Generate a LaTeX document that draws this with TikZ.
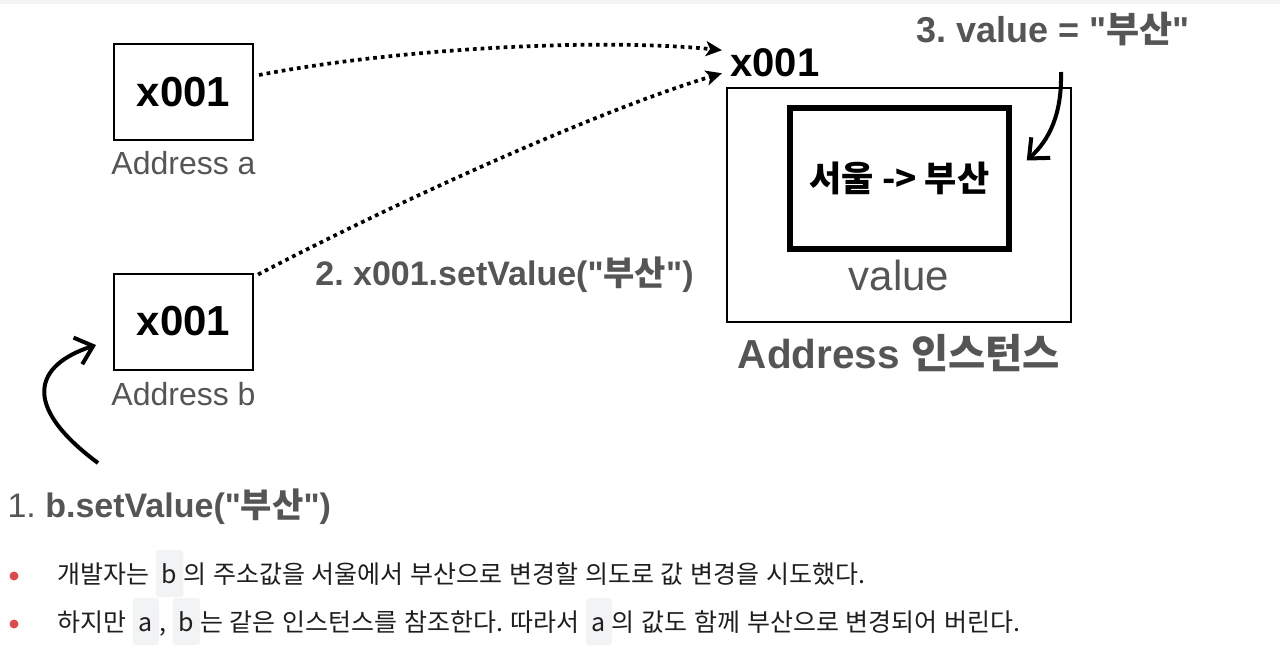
\documentclass[tikz,border=0pt]{standalone}
\usepackage{xcolor}
\usepackage{fontspec}
\newfontfamily\arialfont{Liberation Sans}
\newfontfamily\kr{Noto Sans CJK KR}
\usepackage{tikz}
\usetikzlibrary{arrows.meta,positioning}

\definecolor{labelgray}{HTML}{555555}
\definecolor{chipgray}{HTML}{F2F3F5}
\definecolor{dotred}{HTML}{DC4A50}
\definecolor{stripgray}{HTML}{F3F4F6}
\definecolor{notetextcol}{HTML}{1E1E1E}

\newcommand{\fs}[1]{\arialfont\frenchspacing\fontsize{#1}{#1}\selectfont}
\newcommand{\notefont}{\fs{25}\kr\frenchspacing\spaceskip=0.27em\relax}
\newcommand{\busan}{{\kr 부산}}
\newcommand{\chip}[1]{\tikz[baseline=(ch.base)]\node[chipbox] (ch) {#1};}

\begin{document}
\begin{tikzpicture}[x=1pt, y=-1pt,
    ptrbox/.style={draw, line width=2pt, minimum width=139pt, minimum height=96pt, font=\fs{42}\bfseries},
    addrlabel/.style={anchor=base, text=labelgray, font=\fs{32}},
    steplabel/.style={anchor=base, text=labelgray, font=\fs{35}\bfseries},
    refarrow/.style={-{Stealth[length=16pt,width=15pt,inset=4pt]}, line width=3.7pt, dash pattern=on 3.7pt off 4pt},
    callarrow/.style={-{Straight Barb[length=16pt,width=28pt]}, line width=4pt},
    chipbox/.style={fill=chipgray, rounded corners=3pt, inner xsep=6pt, inner ysep=3pt, text height=30pt, text depth=11pt},
    reddot/.style={circle, fill=dotred, inner sep=0pt, minimum size=9pt},
    notetext/.style={anchor=base west, inner sep=0pt, text=notetextcol, font=\notefont}]
\useasboundingbox (0,0) rectangle (1280,667);
\fill[stripgray] (0,0) rectangle (1280,4);

% the two variables
\node[ptrbox] (ptra) at (183.5,92) {x001};
\node[addrlabel] (capa) at (183.5,174) {Address a};
\node[ptrbox] (ptrb) at (183.5,321.5) {x001};
\node[addrlabel] (capb) at (183.5,405) {Address b};

% the shared instance
\node[draw, line width=1.2pt, minimum width=344pt, minimum height=234pt] (inst) at (899,205) {};
\node[draw, line width=5.5pt, minimum width=219pt, minimum height=141pt, font=\fs{35}\kr\bfseries] (val) at (899.5,178.5) {서울 -> 부산};
\node[anchor=base, text=labelgray, font=\fs{42}] (valcap) at (899,290) {value};
\node[anchor=base, text=labelgray, font=\fs{40.5}\bfseries] (instcap) at (899,368) {Address {\kr 인스턴스}};
\node[anchor=base, font=\fs{40}\bfseries] (addr) at (775,76) {x001};

% steps
\node[steplabel, font=\fs{36}\bfseries] (step3) at (1053,42) {3. value = "\busan"};
\node[steplabel, font=\fs{34}\bfseries] (step2) at (504.5,285) {2. x001.setValue("\busan")};
\node[steplabel, anchor=base west, font=\fs{34}] (step1) at (4,517) {1. \textbf{b.setValue("\busan")}};

% references
\draw[refarrow] ([xshift=5pt,yshift=17pt]ptra.east) .. controls (400,48) and (600,38) .. ([xshift=-5pt,yshift=12pt]addr.west);
\draw[refarrow] ([xshift=4pt,yshift=-2pt]ptrb.north east) .. controls (400,200) and (600,110) .. ([xshift=-5pt,yshift=-11pt]addr.west);

% calls
\coordinate (s3) at (1061,72);
\coordinate (s1) at (98,463);
\draw[callarrow] (s3) .. controls (1062,115) and (1049,140) .. ([xshift=15pt,yshift=18pt]val.east);
\draw[callarrow] (s1) .. controls (20,405) and (35,365) .. ([xshift=-17pt,yshift=-23.5pt]ptrb.west);

% notes
\node[reddot] (dot1) at (14,576) {};
\node[notetext] (note1) at (57,583) {개발자는 \chip{b}의 주소값을 서울에서 부산으로 변경할 의도로 값 변경을 시도했다.};
\node[reddot] (dot2) at (14,624) {};
\node[notetext] (note2) at (57,631) {하지만 \chip{a}, \chip{b}는 같은 인스턴스를 참조한다. 따라서 \chip{a}의 값도 함께 부산으로 변경되어 버린다.};
\end{tikzpicture}
\end{document}
